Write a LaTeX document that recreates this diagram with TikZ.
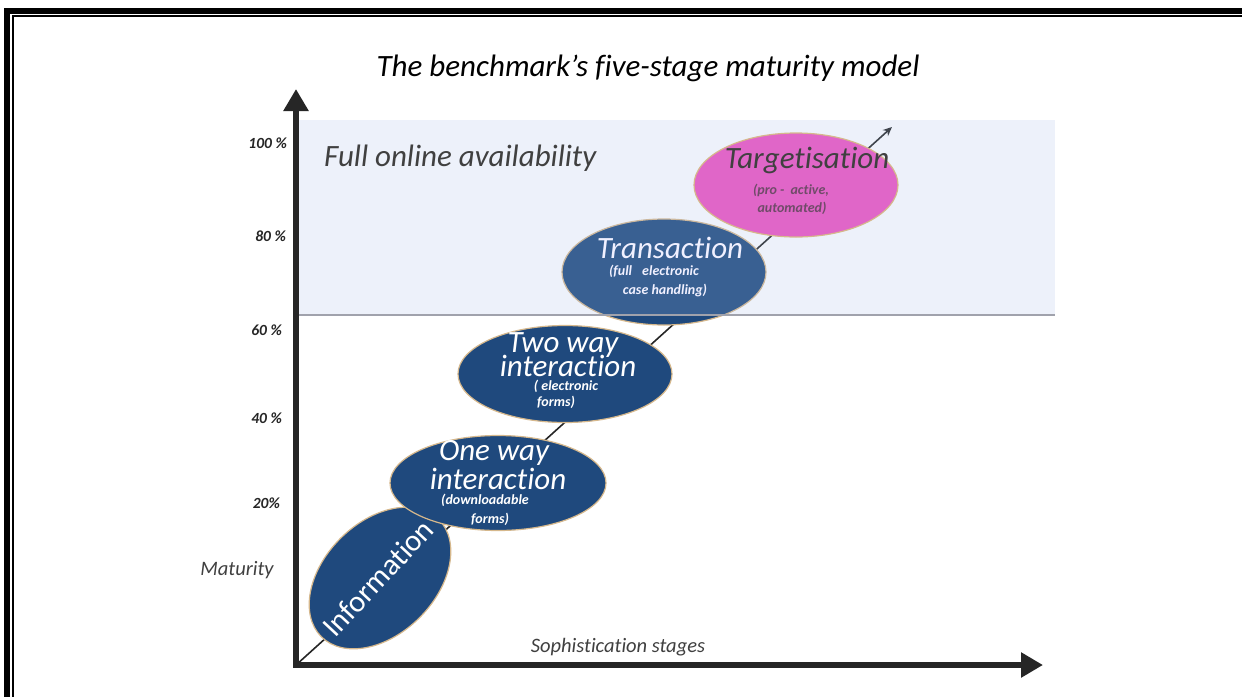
\documentclass[tikz,border=0pt]{standalone}
\usepackage{fontspec}
\setmainfont{Carlito}[Ligatures={NoCommon}]
\usetikzlibrary{shapes.geometric,arrows.meta}
\definecolor{axisgray}{RGB}{38,38,38}
\definecolor{stageblue}{RGB}{31,73,125}
\definecolor{stagerim}{RGB}{214,184,140}
\definecolor{bandblue}{RGB}{165,188,232}
\definecolor{bandedge}{RGB}{160,162,172}
\definecolor{targetpink}{RGB}{224,102,200}
\definecolor{labelgray}{RGB}{64,64,64}
\begin{document}
\begin{tikzpicture}[x=1pt,y=-1pt,
  stage/.style={ellipse,draw=stagerim,line width=1.2pt,fill=stageblue,inner sep=0pt},
  bigtxt/.style={font=\itshape\fontsize{31}{24}\selectfont,text=white,inner sep=0pt},
  smalltxt/.style={font=\bfseries\itshape\fontsize{14}{17}\selectfont,text=white,inner sep=0pt,align=center},
  tick/.style={font=\bfseries\itshape\fontsize{15.5}{16}\selectfont,text=axisgray,anchor=east,inner sep=0pt},
  axislabel/.style={font=\itshape\fontsize{20.5}{22}\selectfont,text=labelgray,inner sep=0pt},
  mainaxis/.style={draw=axisgray,line width=6.5pt,-{Triangle[length=22pt,width=24pt]}}]
\useasboundingbox (0,0) rectangle (1242,697);
\fill[white] (0,0) rectangle (1242,697);

% double page frame
\fill[black] (4,7.5) rectangle (1242,13.5);
\fill[black] (4,7.5) rectangle (10,697);
\fill[black] (12,15) rectangle (1242,17);
\fill[black] (12,15) rectangle (14,697);

% axes
\coordinate (origin) at (296,665);
\coordinate (ytip) at (296,89);
\coordinate (xtip) at (1043,665);
\coordinate (diagtip) at (892,127);
\draw[mainaxis] (296,667.5) -- (ytip);
\draw[mainaxis] (293,665) -- (xtip);

% growth path
\draw[axisgray,line width=1.6pt,-{Stealth[length=9pt,width=8pt]}] (origin) -- (diagtip);

% stages below the online band
\node[stage,minimum width=166pt,minimum height=112pt,rotate=45] (info) at (380,578) {};
\node[stage,minimum width=216pt,minimum height=95pt] (oneway) at (498,483) {};
\node[stage,minimum width=214pt,minimum height=97pt] (twoway) at (565,374) {};
\node[stage,minimum width=204pt,minimum height=106pt] (trans) at (664,272) {};

% full online availability band
\fill[bandblue,opacity=0.2] (299,120) rectangle (1055,315);
\draw[bandedge,line width=1.6pt] (299,315) -- (1055,315);

\node[stage,fill=targetpink,minimum width=204pt,minimum height=104pt] (target) at (796,185) {};

% texts
\node[font=\itshape\fontsize{31}{34}\selectfont,text=black,inner sep=0pt] (title) at (648,68) {The benchmark’s five-stage maturity model};
\node[font=\itshape\fontsize{31}{34}\selectfont,text=labelgray,inner sep=0pt,anchor=west] (online) at (324,158) {Full online availability};

\node[font=\fontsize{30.5}{32}\selectfont,text=white,inner sep=0pt,rotate=47] (infotxt) at (378,578) {Information};

\node[bigtxt] (onewaya) at (494,453) {One way};
\node[bigtxt] (onewayb) at (498,479) {interaction};
\node[smalltxt] (onewayc) at (485,500) {(downloadable};
\node[smalltxt] (onewayd) at (490,519) {forms)};

\node[bigtxt] (twowaya) at (563,345) {Two way};
\node[bigtxt] (twowayb) at (568,366) {interaction};
\node[smalltxt] (twowayc) at (566,386) {( electronic};
\node[smalltxt] (twowayd) at (556,402) {forms)};

\node[bigtxt,text=white!94!blue] (transa) at (670,248) {Transaction};
\node[smalltxt,text=white!94!blue] (transb) at (654,271) {(full\hspace{10pt}electronic};
\node[smalltxt,text=white!94!blue] (transc) at (665,290) {case handling)};

\node[bigtxt,text=labelgray] (targeta) at (807,160) {Targetisation};
\node[smalltxt,text=labelgray!70!targetpink] (targetb) at (791,190) {(pro -\hspace{6pt}active,};
\node[smalltxt,text=labelgray!70!targetpink] (targetc) at (792,208) {automated)};

% axis scale and captions
\node[tick] (t100) at (287,143) {100 \%};
\node[tick] (t80) at (286,236) {80 \%};
\node[tick] (t60) at (282,330) {60 \%};
\node[tick] (t40) at (282,418) {40 \%};
\node[tick] (t20) at (280,503) {20\%};
\node[axislabel] (maturity) at (237,570) {Maturity};
\node[axislabel] (stages) at (618,647) {Sophistication stages};
\end{tikzpicture}
\end{document}
